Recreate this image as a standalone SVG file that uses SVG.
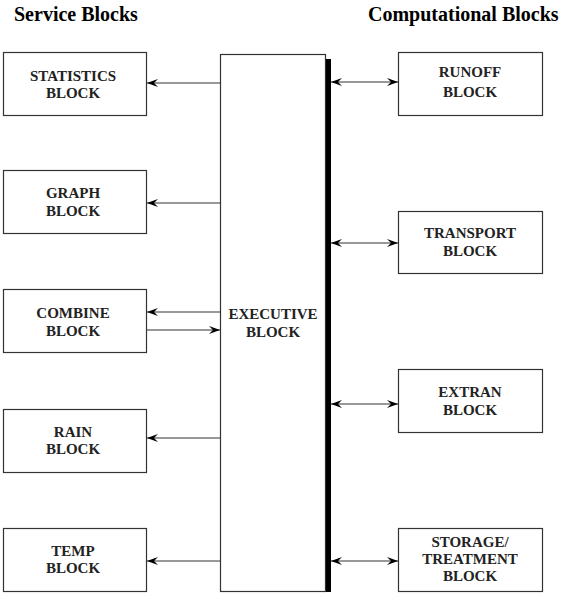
<svg xmlns="http://www.w3.org/2000/svg" width="571" height="593" viewBox="0 0 571 593">
<defs>
<style>
.box{fill:#fff;stroke:#333;stroke-width:1.2}
.t{font-family:"Liberation Serif","Times New Roman",serif;font-weight:bold;font-size:15px;fill:#222;text-anchor:middle}
.title{font-family:"Liberation Serif","Times New Roman",serif;font-weight:bold;font-size:20px;fill:#000}
.ln{stroke:#333;stroke-width:1.2;fill:none}
</style>
<marker id="ah" markerWidth="12" markerHeight="10" refX="0" refY="0" viewBox="-11 -5 12 10" orient="auto-start-reverse" markerUnits="userSpaceOnUse">
<path d="M0,0 L-11,-4 L-7,0 L-11,4 Z" fill="#000"/>
</marker>
</defs>
<rect width="571" height="593" fill="#fff"/>
<text class="title" x="14" y="21">Service Blocks</text>
<text class="title" x="368" y="21">Computational Blocks</text>

<g id="executive">
<rect class="box" x="220.5" y="54.5" width="105" height="537"/>
<rect x="326" y="59" width="5" height="533" fill="#000"/>
<text class="t" x="273" y="319">EXECUTIVE</text>
<text class="t" x="273" y="337">BLOCK</text>
</g>

<g id="statistics">
<rect class="box" x="3.5" y="52.5" width="143" height="63"/>
<text class="t" x="73" y="81">STATISTICS</text>
<text class="t" x="73" y="98">BLOCK</text>
</g>
<g id="graph">
<rect class="box" x="3.5" y="170.5" width="143" height="63"/>
<text class="t" x="73" y="198">GRAPH</text>
<text class="t" x="73" y="216">BLOCK</text>
</g>
<g id="combine">
<rect class="box" x="3.5" y="289.5" width="143" height="63"/>
<text class="t" x="73" y="318">COMBINE</text>
<text class="t" x="73" y="336">BLOCK</text>
</g>
<g id="rain">
<rect class="box" x="3.5" y="409.5" width="143" height="63"/>
<text class="t" x="73" y="437">RAIN</text>
<text class="t" x="73" y="454">BLOCK</text>
</g>
<g id="temp">
<rect class="box" x="3.5" y="528.5" width="143" height="63"/>
<text class="t" x="73" y="556">TEMP</text>
<text class="t" x="73" y="573">BLOCK</text>
</g>

<g id="runoff">
<rect class="box" x="398.5" y="52.5" width="144" height="63"/>
<text class="t" x="470" y="77">RUNOFF</text>
<text class="t" x="470" y="97">BLOCK</text>
</g>
<g id="transport">
<rect class="box" x="398.5" y="211.5" width="144" height="62"/>
<text class="t" x="470" y="238">TRANSPORT</text>
<text class="t" x="470" y="256">BLOCK</text>
</g>
<g id="extran">
<rect class="box" x="398.5" y="369.5" width="144" height="63"/>
<text class="t" x="470" y="397">EXTRAN</text>
<text class="t" x="470" y="415">BLOCK</text>
</g>
<g id="storage">
<rect class="box" x="398.5" y="528.5" width="144" height="63"/>
<text class="t" x="470" y="547">STORAGE/</text>
<text class="t" x="470" y="564">TREATMENT</text>
<text class="t" x="470" y="581">BLOCK</text>
</g>

<g id="connectors">
<line class="ln" x1="220" y1="83" x2="147" y2="83" marker-end="url(#ah)"/>
<line class="ln" x1="220" y1="203" x2="147" y2="203" marker-end="url(#ah)"/>
<line class="ln" x1="220" y1="312" x2="147" y2="312" marker-end="url(#ah)"/>
<line class="ln" x1="147" y1="330" x2="220" y2="330" marker-end="url(#ah)"/>
<line class="ln" x1="220" y1="438" x2="147" y2="438" marker-end="url(#ah)"/>
<line class="ln" x1="220" y1="561" x2="147" y2="561" marker-end="url(#ah)"/>
<line class="ln" x1="331" y1="82" x2="398" y2="82" marker-start="url(#ah)" marker-end="url(#ah)"/>
<line class="ln" x1="331" y1="243" x2="398" y2="243" marker-start="url(#ah)" marker-end="url(#ah)"/>
<line class="ln" x1="331" y1="404" x2="398" y2="404" marker-start="url(#ah)" marker-end="url(#ah)"/>
<line class="ln" x1="331" y1="561" x2="398" y2="561" marker-start="url(#ah)" marker-end="url(#ah)"/>
</g>
</svg>
